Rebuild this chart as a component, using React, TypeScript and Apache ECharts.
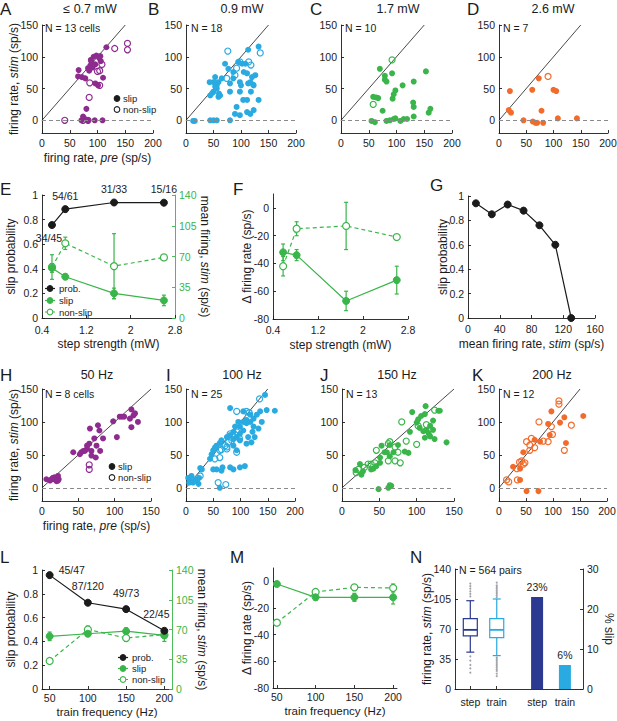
import React, { useEffect, useRef } from "react";
import * as echarts from "echarts";

const FONT = '"Liberation Sans", Arial, Helvetica, sans-serif';
const INK = "#1b1b1b";
const PURPLE = "#8e2b8f";
const SKY = "#29aae1";
const GREEN = "#39b54a";
const ORANGE = "#f26b2a";
const NAVY = "#2b3990";
const DASH_GREY = "#8a8a8a";

// ---------- scatter panels (pre vs stim firing rate) ----------
const unityLine = [[0, 0], [150, 150]];

const aSlip = [[66,79],[65,69],[72,68],[78,66],[83,82],[87,86],[89,92],[93,100],[98,102],[103,98],[106,93],[96,88],[91,83],[110,67],[96,58],[101,55],[116,115],[80,18],[74,6],[76,3],[71,0],[83,0],[95,0],[109,0],[88,95],[105,101],[85,78]];
const aNonSlip = [[131,113],[154,121],[154,111],[100,77],[104,78],[108,88],[86,59],[104,55],[85,36],[41,0],[74,0],[83,0]];

const bSlip = [[13,-1],[16,-1],[44,0],[50,0],[56,0],[80,0],[89,10],[98,8],[111,13],[117,10],[123,16],[44,39],[50,45],[56,50],[50,60],[59,60],[65,66],[53,68],[62,39],[59,37],[80,58],[80,45],[71,89],[77,81],[86,76],[98,60],[105,76],[108,89],[111,74],[117,60],[123,55],[126,71],[113,58],[98,45],[104,32],[111,32],[92,21],[132,116],[113,111],[132,32],[56,55],[53,53],[43,60],[86,66],[95,92],[102,89],[48,43],[60,42],[120,68],[122,56],[100,55],[118,45]];
const bNonSlip = [[76,109],[92,82],[98,92],[114,92],[135,106],[118,87],[89,71],[74,66]];

const cSlip = [[70,81],[79,70],[79,64],[82,61],[92,74],[98,47],[95,41],[93,34],[58,37],[67,35],[75,15],[111,55],[131,61],[130,28],[131,21],[153,77],[161,18],[158,12],[55,-1],[61,-3],[82,-1],[88,0],[95,2],[107,-1],[113,2],[119,2],[131,6],[98,3],[63,36]];
const cNonSlip = [[92,95],[58,25]];

const dSlip = [[20,46],[18,16],[22,12],[61,48],[73,66],[78,15],[100,48],[105,46],[45,0],[62,-2],[67,-4],[70,-4],[81,-4],[108,3],[143,3]];
const dNonSlip = [[90,69]];

const hSlip = [[6,13],[11,11],[15,13],[17,16],[20,15],[22,18],[22,11],[15,15],[20,10],[13,13],[23,13],[43,54],[52,51],[54,54],[57,56],[59,56],[62,59],[65,67],[62,64],[68,56],[66,90],[79,87],[77,95],[72,75],[84,75],[75,64],[74,46],[80,56],[68,49],[98,101],[103,77],[107,108],[110,108],[113,108],[123,119],[126,110],[128,113],[123,92],[132,100],[121,105]];
const hNonSlip = [[65,35],[65,28]];

const iSlip = [[4,15],[7,13],[10,9],[13,8],[17,13],[20,10],[24,15],[26,30],[29,28],[6,8],[10,18],[23,6],[62,0],[44,44],[47,51],[50,57],[53,61],[56,64],[62,68],[65,72],[75,77],[81,80],[87,85],[93,77],[99,82],[105,87],[111,98],[118,100],[124,105],[130,111],[136,116],[145,141],[148,118],[163,117],[81,121],[105,116],[111,103],[124,93],[133,90],[126,77],[120,69],[111,67],[99,72],[87,64],[93,57],[81,31],[87,28],[99,31],[108,33],[56,28],[50,28],[65,26],[67,31],[122,85],[114,77],[90,93],[96,100],[105,100],[87,74],[118,111],[139,100],[99,93]];
const iNonSlip = [[26,18],[53,44],[62,46],[65,58],[72,64],[78,69],[75,62],[84,72],[87,78],[93,85],[96,88],[98,75],[81,82],[93,116],[116,114],[135,135],[93,54],[62,57],[75,59],[111,116],[59,8],[73,5],[10,13]];

const jSlip = [[18,27],[24,36],[26,20],[28,25],[39,28],[42,29],[46,33],[51,38],[53,64],[51,46],[57,54],[60,54],[64,65],[75,65],[64,48],[69,54],[84,55],[89,53],[91,85],[94,115],[100,99],[102,104],[104,91],[106,109],[111,112],[112,124],[113,88],[116,83],[118,78],[122,102],[122,88],[124,74],[129,117],[131,117],[140,69],[109,86],[118,94],[111,76],[49,-2],[62,0],[64,4],[66,3]];
const jNonSlip = [[19,23],[22,28],[30,31],[35,36],[39,36],[44,38],[46,57],[62,67],[64,70],[71,62],[75,54],[78,38],[71,41],[62,41],[80,100],[86,71],[100,66],[102,94],[113,96],[124,118]];

const kSlip = [[26,32],[39,29],[45,54],[51,-5],[66,73],[73,-5],[76,70],[91,97],[97,116],[94,80],[113,99],[121,107],[124,68],[156,109],[39,12]];
const kNonSlip = [[14,12],[18,9],[34,12],[33,29],[38,39],[42,41],[45,36],[48,38],[51,70],[60,75],[57,65],[57,57],[66,61],[74,100],[82,71],[91,70],[99,81],[97,93],[111,132],[111,127],[134,95],[121,57]];

// ---------- E / F : step strength ----------
const stepStrength = [0.58, 0.82, 1.7, 2.6];
const stepProb = [0.756, 0.885, 0.939, 0.9375];
const stepProbLabels = ["34/45", "54/61", "31/33", "15/16"];
const stepSlipRate = [57, 47, 28, 20];
const stepSlipRateErr = [5, 3, 6, 6];
const stepNonSlipRate = [58, 85, 59, 69];
const stepNonSlipRateErr = [14, 7, 37, 0];
const stepSlipDelta = [-32, -34, -67, -52];
const stepSlipDeltaErr = [6, 4, 7, 10];
const stepNonSlipDelta = [-42, -15, -13, -21];
const stepNonSlipDeltaErr = [7, 5, 17, 0];

// ---------- G ----------
const gMeanRate = [10, 30, 50, 70, 90, 110, 130];
const gSlipProb = [0.94, 0.85, 0.93, 0.88, 0.76, 0.6, 0];

// ---------- L / M : train frequency ----------
const trainFreq = [50, 100, 150, 200];
const trainProb = [0.957, 0.725, 0.671, 0.489];
const trainProbLabels = ["45/47", "87/120", "49/73", "22/45"];
const trainSlipRate = [62, 65, 68, 63];
const trainSlipRateErr = [5, 3, 4, 7];
const trainNonSlipRate = [33, 70, 60, 64];
const trainNonSlipRateErr = [0, 4, 4, 4];
const trainSlipDelta = [-2, -12, -12, -12];
const trainSlipDeltaErr = [1, 2, 3, 5];
const trainNonSlipDelta = [-31, -8, -4.5, -5];
const trainNonSlipDeltaErr = [2, 2, 2, 3];

// ---------- N ----------
const nCategories = ["step", "train", "step", "train"];
const nPositions = [0.55, 1.5, 2.95, 3.95];
const boxStep = [43, 62, 69, 82, 103];
const boxTrain = [39, 60, 69, 82, 105];
const outStep = [108, 111, 114, 117, 120, 123, 38, 33, 28, 24, 19];
const outTrain = [107, 109, 111, 113, 115, 117, 119, 121, 124, 37, 35, 33, 31, 29, 27, 25, 23, 21, 18, 15];
const slipPercent = [23, 6];

function buildOption() {
  const grid: any[] = [];
  const xAxis: any[] = [];
  const yAxis: any[] = [];
  const series: any[] = [];
  const graphic: any[] = [];

  const axis = (gi: number, o: any) => {
    const color = o.color || INK;
    const ax: any = {
      type: "value",
      gridIndex: gi,
      min: o.min,
      max: o.max,
      position: o.position,
      axisLine: { show: true, onZero: false, lineStyle: { color, width: 0.9 } },
      axisTick: { show: true, inside: true, length: 3, lineStyle: { color, width: 0.9 } },
      axisLabel: { fontSize: 10.5, color, fontFamily: FONT, margin: o.margin ?? 4 },
      splitLine: { show: false },
    };
    if (o.showMaxLabel === false) ax.axisLabel.showMaxLabel = false;
    if (o.interval != null) ax.interval = o.interval;
    if (o.custom) {
      ax.axisLabel.customValues = o.custom;
      ax.axisTick.customValues = o.custom;
    }
    if (o.formatter) ax.axisLabel.formatter = o.formatter;
    if (o.name) {
      const ns = o.nameSize || 12;
      ax.name = o.name;
      ax.nameLocation = "middle";
      ax.nameGap = o.nameGap;
      ax.nameMoveOverlap = false;
      if (o.nameRotate != null) ax.nameRotate = o.nameRotate;
      ax.nameTextStyle = {
        fontSize: ns,
        color: INK,
        fontFamily: FONT,
        rich: { i: { fontStyle: "italic", fontSize: ns, color: INK, fontFamily: FONT } },
      };
    }
    return ax;
  };

  const panel = (box: number[], xo: any, yo: any, y2o?: any) => {
    const gi = grid.length;
    grid.push({ left: box[0], top: box[1], width: box[2], height: box[3], containLabel: false, outerBoundsMode: "none" });
    const xi = xAxis.length;
    xAxis.push(axis(gi, { ...xo, position: "bottom" }));
    const yi = yAxis.length;
    yAxis.push(axis(gi, { ...yo, position: "left" }));
    let y2i = -1;
    if (y2o) {
      y2i = yAxis.length;
      yAxis.push(axis(gi, { ...y2o, position: "right" }));
    }
    return { xi, yi, y2i };
  };

  const txt = (x: number, y: number, text: string, o: any = {}) => {
    graphic.push({
      type: "text",
      x,
      y,
      silent: true,
      style: {
        text,
        fontSize: o.size || 10.5,
        fontFamily: FONT,
        fill: o.color || INK,
        align: o.align || "left",
        verticalAlign: "middle",
        textAlign: o.align || "left",
        textVerticalAlign: "middle",
      },
    });
  };

  const scatterPanel = (box: number[], xMax: number, slip: number[][], non: number[][], color: string, names: any = {}) => {
    const p = panel(
      box,
      { min: 0, max: xMax, interval: 50, name: names.x, nameGap: names.xGap },
      { min: -20, max: 150, custom: [0, 50, 100, 150], name: names.y, nameGap: 22 }
    );
    series.push({
      type: "line",
      xAxisIndex: p.xi,
      yAxisIndex: p.yi,
      data: unityLine,
      symbol: "none",
      silent: true,
      z: 1,
      lineStyle: { color: INK, width: 0.8 },
      markLine: {
        silent: true,
        symbol: "none",
        label: { show: false },
        lineStyle: { type: [4, 3], color: DASH_GREY, width: 1 },
        data: [{ yAxis: 0 }],
      },
    });
    series.push({
      type: "scatter",
      xAxisIndex: p.xi,
      yAxisIndex: p.yi,
      data: slip,
      symbolSize: 6,
      itemStyle: { color, opacity: 1 },
      z: 3,
    });
    series.push({
      type: "scatter",
      xAxisIndex: p.xi,
      yAxisIndex: p.yi,
      data: non,
      symbolSize: 6,
      itemStyle: { color: "rgba(255,255,255,0)", borderColor: color, borderWidth: 1.2, opacity: 1 },
      z: 4,
    });
  };

  const errSeries = (xi: number, yi: number, xs: number[], ys: number[], es: number[], color: string) => {
    series.push({
      type: "custom",
      xAxisIndex: xi,
      yAxisIndex: yi,
      data: xs.map((x, i) => [x, ys[i], es[i]]),
      encode: { x: 0, y: 1 },
      silent: true,
      z: 2,
      renderItem: (_params: any, api: any) => {
        const x = api.value(0);
        const y = api.value(1);
        const e = api.value(2);
        if (!e) return { type: "group", children: [] };
        const t = api.coord([x, y + e]);
        const b = api.coord([x, y - e]);
        const cw = 2;
        const st = { stroke: color, lineWidth: 1.2 };
        return {
          type: "group",
          children: [
            { type: "line", shape: { x1: t[0], y1: t[1], x2: b[0], y2: b[1] }, style: st },
            { type: "line", shape: { x1: t[0] - cw, y1: t[1], x2: t[0] + cw, y2: t[1] }, style: st },
            { type: "line", shape: { x1: b[0] - cw, y1: b[1], x2: b[0] + cw, y2: b[1] }, style: st },
          ],
        };
      },
    });
  };

  const lineSeries = (xi: number, yi: number, xs: number[], ys: number[], color: string, filled: boolean, dashed: boolean, labels?: any[]) => {
    series.push({
      type: "line",
      xAxisIndex: xi,
      yAxisIndex: yi,
      data: xs.map((x, i) => {
        const d: any = { value: [x, ys[i]] };
        if (labels && labels[i]) d.label = { show: true, fontSize: 10.5, color: INK, fontFamily: FONT, ...labels[i] };
        return d;
      }),
      symbol: "circle",
      symbolSize: 7,
      showAllSymbol: true,
      silent: true,
      z: 5,
      lineStyle: { color, width: 1.2, type: dashed ? [4, 3] : "solid" },
      itemStyle: filled ? { color, borderColor: color, borderWidth: 1 } : { color: "#fff", borderColor: color, borderWidth: 1.2 },
    });
  };

  const legendRow = (x: number, y: number, color: string, filled: boolean, dashed: boolean | null, label: string, textX: number) => {
    if (dashed !== null) {
      graphic.push({
        type: "line",
        silent: true,
        shape: { x1: x - 5, y1: y, x2: x + 5, y2: y },
        style: { stroke: color, lineWidth: 1.2, lineDash: dashed ? [2, 2] : null },
      });
    }
    graphic.push({
      type: "circle",
      silent: true,
      shape: { cx: x, cy: y, r: 2.8 },
      style: { fill: filled ? color : "#fff", stroke: color, lineWidth: 1.1 },
    });
    txt(textX, y, label, { size: 9.5 });
  };

  // ---------------- Row 1 ----------------
  scatterPanel([42, 25, 111, 108], 200, aSlip, aNonSlip, PURPLE, {
    x: "firing rate, {i|pre} (sp/s)",
    xGap: 19,
    y: "firing rate, {i|stim} (sp/s)",
  });
  scatterPanel([186, 25, 110, 108], 200, bSlip, bNonSlip, SKY);
  scatterPanel([341, 25, 111, 108], 200, cSlip, cNonSlip, GREEN);
  scatterPanel([499, 25, 109, 108], 200, dSlip, dNonSlip, ORANGE);

  // ---------------- Row 2 ----------------
  const pe = panel(
    [42, 195, 133, 123],
    { min: 0.4, max: 2.8, custom: [0.4, 1.2, 2, 2.8], margin: 6, name: "step strength (mW)", nameGap: 20 },
    { min: 0, max: 1, interval: 0.2, name: "slip probability", nameGap: 25 },
    { min: 0, max: 140, interval: 35, color: GREEN, name: "mean firing, {i|stim} (sp/s)", nameGap: 24, nameRotate: -90 }
  );
  errSeries(pe.xi, pe.y2i, stepStrength, stepNonSlipRate, stepNonSlipRateErr, GREEN);
  errSeries(pe.xi, pe.y2i, stepStrength, stepSlipRate, stepSlipRateErr, GREEN);
  lineSeries(pe.xi, pe.y2i, stepStrength, stepNonSlipRate, GREEN, false, true);
  lineSeries(pe.xi, pe.y2i, stepStrength, stepSlipRate, GREEN, true, false);
  lineSeries(pe.xi, pe.yi, stepStrength, stepProb, INK, true, false, [
    { position: "bottom", distance: 3, offset: [-3, 0], formatter: stepProbLabels[0] },
    { position: "top", distance: 4, formatter: stepProbLabels[1] },
    { position: "top", distance: 4, formatter: stepProbLabels[2] },
    { position: "top", distance: 4, formatter: stepProbLabels[3] },
  ]);

  const pf = panel(
    [273, 194, 135, 125],
    { min: 0.4, max: 2.8, custom: [0.4, 1.2, 2, 2.8], margin: 5, name: "step strength (mW)", nameGap: 20 },
    { min: -80, max: 10, interval: 20, showMaxLabel: false, name: "Δ firing rate (sp/s)", nameGap: 20 }
  );
  errSeries(pf.xi, pf.yi, stepStrength, stepNonSlipDelta, stepNonSlipDeltaErr, GREEN);
  errSeries(pf.xi, pf.yi, stepStrength, stepSlipDelta, stepSlipDeltaErr, GREEN);
  lineSeries(pf.xi, pf.yi, stepStrength, stepNonSlipDelta, GREEN, false, true);
  lineSeries(pf.xi, pf.yi, stepStrength, stepSlipDelta, GREEN, true, false);

  const pg = panel(
    [468, 196, 127, 122],
    { min: 0, max: 160, interval: 40, margin: 5, name: "mean firing rate, {i|stim} (sp/s)", nameGap: 20 },
    { min: 0, max: 1, interval: 0.2, name: "slip probability", nameGap: 19 }
  );
  lineSeries(pg.xi, pg.yi, gMeanRate, gSlipProb, INK, true, false);

  // ---------------- Row 3 ----------------
  scatterPanel([42, 389, 109, 112], 150, hSlip, hNonSlip, PURPLE, {
    x: "firing rate, {i|pre} (sp/s)",
    xGap: 19,
    y: "firing rate, {i|stim} (sp/s)",
  });
  scatterPanel([186, 389, 109, 112], 200, iSlip, iNonSlip, SKY);
  scatterPanel([342, 389, 112, 112], 150, jSlip, jNonSlip, GREEN);
  scatterPanel([499, 389, 108, 112], 200, kSlip, kNonSlip, ORANGE);

  // ---------------- Row 4 ----------------
  const pl = panel(
    [42, 570, 130, 119],
    { min: 40, max: 210, custom: [50, 100, 150, 200], margin: 3, name: "train frequency (Hz)", nameGap: 17, nameSize: 11.5 },
    { min: 0, max: 1, interval: 0.2, name: "slip probability", nameGap: 25 },
    { min: 0, max: 140, interval: 35, color: GREEN, name: "mean firing, {i|stim} (sp/s)", nameGap: 24, nameRotate: -90 }
  );
  errSeries(pl.xi, pl.y2i, trainFreq, trainNonSlipRate, trainNonSlipRateErr, GREEN);
  errSeries(pl.xi, pl.y2i, trainFreq, trainSlipRate, trainSlipRateErr, GREEN);
  lineSeries(pl.xi, pl.y2i, trainFreq, trainNonSlipRate, GREEN, false, true);
  lineSeries(pl.xi, pl.y2i, trainFreq, trainSlipRate, GREEN, true, false);
  lineSeries(pl.xi, pl.yi, trainFreq, trainProb, INK, true, false, [
    { position: "right", distance: 5, offset: [0, -5], formatter: trainProbLabels[0] },
    { position: "top", distance: 7, formatter: trainProbLabels[1] },
    { position: "top", distance: 7, formatter: trainProbLabels[2] },
    { position: "top", distance: 7, offset: [-8, 0], formatter: trainProbLabels[3] },
  ]);

  const pm = panel(
    [273, 568, 124, 120],
    { min: 45, max: 205, custom: [50, 100, 150, 200], margin: 3, name: "train frequency (Hz)", nameGap: 17, nameSize: 11.5 },
    { min: -80, max: 10, interval: 20, showMaxLabel: false, name: "Δ firing rate (sp/s)", nameGap: 20 }
  );
  errSeries(pm.xi, pm.yi, trainFreq, trainNonSlipDelta, trainNonSlipDeltaErr, GREEN);
  errSeries(pm.xi, pm.yi, trainFreq, trainSlipDelta, trainSlipDeltaErr, GREEN);
  lineSeries(pm.xi, pm.yi, trainFreq, trainNonSlipDelta, GREEN, false, true);
  lineSeries(pm.xi, pm.yi, trainFreq, trainSlipDelta, GREEN, true, false);

  const pn = panel(
    [455, 569, 128, 120],
    {
      min: 0,
      max: 4.6,
      custom: nPositions,
      margin: 7,
      formatter: (v: number) => {
        const i = nPositions.findIndex((p) => Math.abs(p - v) < 1e-6);
        return i >= 0 ? nCategories[i] : "";
      },
    },
    { min: 0, max: 140, interval: 35, name: "firing rate, {i|stim} (sp/s)", nameGap: 22 },
    { min: 0, max: 30, interval: 10, name: "% slip", nameGap: 20, nameRotate: -90 }
  );
  const boxColors = [NAVY, SKY];
  series.push({
    type: "scatter",
    xAxisIndex: pn.xi,
    yAxisIndex: pn.yi,
    data: [...outStep.map((v) => [nPositions[0], v]), ...outTrain.map((v) => [nPositions[1], v])],
    symbolSize: 2,
    silent: true,
    itemStyle: { color: "#8a8a94" },
    z: 2,
  });
  series.push({
    type: "custom",
    xAxisIndex: pn.xi,
    yAxisIndex: pn.yi,
    data: [
      [nPositions[0], ...boxStep],
      [nPositions[1], ...boxTrain],
    ],
    encode: { x: 0, y: [1, 2, 3, 4, 5] },
    silent: true,
    z: 3,
    renderItem: (params: any, api: any) => {
      const x = api.value(0);
      const lo = api.coord([x, api.value(1)]);
      const q1 = api.coord([x, api.value(2)]);
      const md = api.coord([x, api.value(3)]);
      const q3 = api.coord([x, api.value(4)]);
      const hi = api.coord([x, api.value(5)]);
      const c = boxColors[params.dataIndex];
      const w = 14;
      const cw = 4;
      const st = { stroke: c, lineWidth: 1.2 };
      return {
        type: "group",
        children: [
          { type: "line", shape: { x1: hi[0], y1: hi[1], x2: q3[0], y2: q3[1] }, style: st },
          { type: "line", shape: { x1: lo[0], y1: lo[1], x2: q1[0], y2: q1[1] }, style: st },
          { type: "line", shape: { x1: hi[0] - cw, y1: hi[1], x2: hi[0] + cw, y2: hi[1] }, style: st },
          { type: "line", shape: { x1: lo[0] - cw, y1: lo[1], x2: lo[0] + cw, y2: lo[1] }, style: st },
          { type: "rect", shape: { x: q3[0] - w / 2, y: q3[1], width: w, height: q1[1] - q3[1] }, style: { fill: "#fff", stroke: c, lineWidth: 1.2 } },
          { type: "line", shape: { x1: md[0] - w / 2, y1: md[1], x2: md[0] + w / 2, y2: md[1] }, style: { stroke: c, lineWidth: 1.8 } },
        ],
      };
    },
  });
  series.push({
    type: "custom",
    xAxisIndex: pn.xi,
    yAxisIndex: pn.y2i,
    data: [
      [nPositions[2], slipPercent[0]],
      [nPositions[3], slipPercent[1]],
    ],
    encode: { x: 0, y: 1 },
    silent: true,
    z: 3,
    renderItem: (params: any, api: any) => {
      const x = api.value(0);
      const v = api.value(1);
      const top = api.coord([x, v]);
      const base = api.coord([x, 0]);
      const w = 12;
      return {
        type: "group",
        children: [
          { type: "rect", shape: { x: top[0] - w / 2, y: top[1], width: w, height: base[1] - top[1] }, style: { fill: boxColors[params.dataIndex] } },
          {
            type: "text",
            x: top[0],
            y: top[1] - 10,
            style: { text: v + "%", fontSize: 10.5, fontFamily: FONT, fill: INK, align: "center", verticalAlign: "middle" },
          },
        ],
      };
    },
  });

  // ---------------- Texts ----------------
  const letters: [string, number, number][] = [
    ["A", 0, 9], ["B", 148, 9], ["C", 310, 9], ["D", 467, 9],
    ["E", 0, 189], ["F", 233, 189], ["G", 430, 185],
    ["H", 0, 375], ["I", 166, 375], ["J", 320, 375], ["K", 472, 375],
    ["L", 0, 557], ["M", 230, 557], ["N", 410, 557],
  ];
  letters.forEach(([t, x, y]) => txt(x, y, t, { size: 17 }));

  txt(90, 9, "≤ 0.7 mW", { size: 12.5, align: "center" });
  txt(242, 9, "0.9 mW", { size: 12.5, align: "center" });
  txt(398, 9, "1.7 mW", { size: 12.5, align: "center" });
  txt(553, 9, "2.6 mW", { size: 12.5, align: "center" });
  txt(97, 375, "50 Hz", { size: 12.5, align: "center" });
  txt(242, 375, "100 Hz", { size: 12.5, align: "center" });
  txt(397, 375, "150 Hz", { size: 12.5, align: "center" });
  txt(552, 375, "200 Hz", { size: 12.5, align: "center" });

  txt(45, 28, "N = 13 cells");
  txt(191, 28, "N = 18");
  txt(345, 28, "N = 10");
  txt(503, 28, "N = 7");
  txt(45, 394, "N = 8 cells");
  txt(191, 394, "N = 25");
  txt(346, 394, "N = 13");
  txt(503, 394, "N = 12");
  txt(459, 570, "N = 564 pairs");

  // legends
  legendRow(117, 98.5, INK, true, null, "slip", 123);
  legendRow(117, 109.5, INK, false, null, "non-slip", 123);
  legendRow(112, 466.5, INK, true, null, "slip", 118);
  legendRow(112, 477.5, INK, false, null, "non-slip", 118);
  legendRow(50, 288.5, INK, true, false, "prob.", 59);
  legendRow(50, 300.5, GREEN, true, false, "slip", 59);
  legendRow(50, 312, GREEN, false, true, "non-slip", 59);
  legendRow(123, 657.5, INK, true, false, "prob.", 132);
  legendRow(123, 668.5, GREEN, true, false, "slip", 132);
  legendRow(123, 679.5, GREEN, false, true, "non-slip", 132);

  return {
    animation: false,
    backgroundColor: "#ffffff",
    textStyle: { fontFamily: FONT },
    grid,
    xAxis,
    yAxis,
    series,
    graphic,
  };
}

export default function App() {
  const ref = useRef<HTMLDivElement>(null);
  useEffect(() => {
    const chart = echarts.init(ref.current!, null, { renderer: "svg" });
    chart.setOption(buildOption());
    return () => chart.dispose();
  }, []);
  return (
    <div
      ref={ref}
      style={{ position: "fixed", left: 0, top: 0, width: 617, height: 721, background: "#fff" }}
    />
  );
}
